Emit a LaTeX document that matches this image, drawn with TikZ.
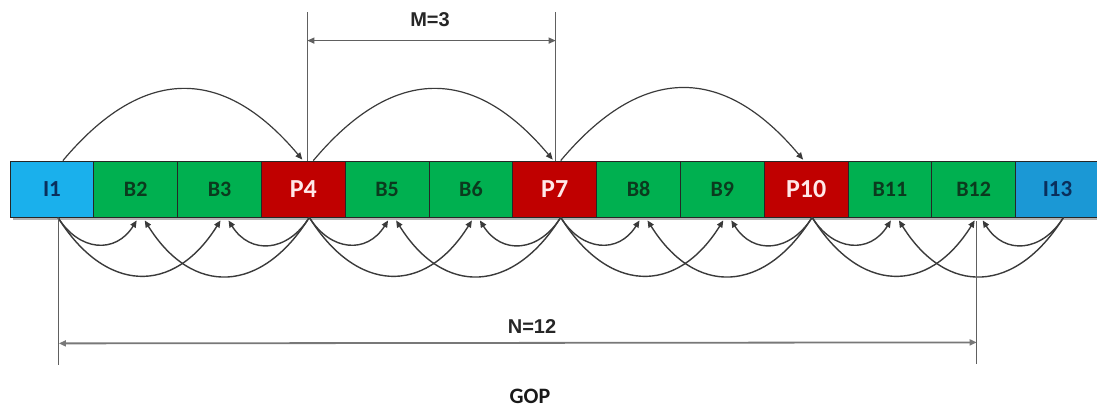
\documentclass[tikz,border=0pt]{standalone}
\usepackage{fontspec}
\setmainfont{Carlito}
\newfontfamily\arialfont{Liberation Sans}
\usetikzlibrary{arrows.meta,calc}

\definecolor{iblue}{HTML}{1AB0EC}
\definecolor{iblueb}{HTML}{1B98D5}
\definecolor{bgreen}{HTML}{00B050}
\definecolor{pred}{HTML}{C00000}
\definecolor{btext}{HTML}{0B3A1E}
\definecolor{itext}{HTML}{0A2F5C}
\definecolor{ptext}{HTML}{FFE8E8}
\definecolor{curve}{HTML}{3A3A3A}
\definecolor{dimline}{HTML}{606060}

\begin{document}
\begin{tikzpicture}[x=1pt,y=1pt,
  frame/.style={draw=black!85, line width=0.8pt, minimum width=83.8pt,
    minimum height=56pt, inner sep=0pt},
  iframe/.style={frame, fill=iblue, text=itext,
    font=\bfseries\fontsize{23}{23}\selectfont},
  bframe/.style={frame, fill=bgreen, text=btext,
    font=\bfseries\fontsize{22}{22}\selectfont},
  pframe/.style={frame, fill=pred, text=ptext,
    font=\bfseries\fontsize{26}{26}\selectfont},
  tip/.style={-{Triangle[length=7pt,width=6pt]}},
  arc/.style={tip, draw=curve, line width=1.4pt},
  dim/.style={draw=dimline, line width=1.1pt},
  dimarrow/.style={dim, {Triangle[length=7pt,width=6pt]}-{Triangle[length=7pt,width=6pt]}},
  dimtext/.style={font=\arialfont\bfseries\fontsize{20}{20}\selectfont, text=black!85}
]
\useasboundingbox (0,0) rectangle (1097,410);

% soft shadow under the frame strip
\fill[black!30] (13,190) rectangle (1102,246);

% the frames of the group of pictures
\node[iframe] (f1)  at ( 51.9,221) {I1};
\node[bframe] (f2)  at (135.7,221) {B2};
\node[bframe] (f3)  at (219.5,221) {B3};
\node[pframe] (f4)  at (303.3,221) {P4};
\node[bframe] (f5)  at (387.1,221) {B5};
\node[bframe] (f6)  at (470.9,221) {B6};
\node[pframe] (f7)  at (554.7,221) {P7};
\node[bframe] (f8)  at (638.5,221) {B8};
\node[bframe] (f9)  at (722.3,221) {B9};
\node[pframe] (f10) at (806.1,221) {P10};
\node[bframe] (f11) at (889.9,221) {B11};
\node[bframe] (f12) at (973.7,221) {B12};
\node[iframe, fill=iblueb] (f13) at (1057.5,221) {I13};

% forward prediction of the P frames (above the strip)
\draw[arc, line width=1.2pt] ($(f1.north)+(11,0)$) to[out=50,in=130,looseness=1.32] ($(f4.north)+(-1,1)$);
\draw[arc, line width=1.2pt] ($(f4.north)+(10,0)$) to[out=50,in=130,looseness=1.32] ($(f7.north)+(-2,1)$);
\draw[arc, line width=1.2pt] ($(f7.north)+(6,0)$)  to[out=50,in=130,looseness=1.32] ($(f10.north)+(-3,1)$);

% reference points under the I and P frames
\foreach \k in {1,4,7,10,13} {
  \coordinate (a\k) at ($(f\k.south)+(6,0)$);
}
% bidirectional prediction of the B frames (below the strip)
\foreach \k in {1,4,7,10} {
  \pgfmathtruncatemacro\na{\k+1}
  \pgfmathtruncatemacro\nb{\k+2}
  \draw[arc] (a\k) to[out=-58,in=-122,looseness=1.3] ($(f\na.south)+(1,-3)$);
  \draw[arc] (a\k) to[out=-58,in=-122,looseness=1.4] ($(f\nb.south)+(1,-3)$);
}
\foreach \k in {4,7,10,13} {
  \pgfmathtruncatemacro\na{\k-1}
  \pgfmathtruncatemacro\nb{\k-2}
  \draw[arc] (a\k) to[out=-122,in=-58,looseness=1.3] ($(f\na.south)+(9,-3)$);
  \draw[arc] (a\k) to[out=-122,in=-58,looseness=1.4] ($(f\nb.south)+(9,-3)$);
}

% distance between anchor frames
\coordinate (m1) at ($(f4.north)+(4,0)$);
\coordinate (m2) at ($(f7.north)+(1,0)$);
\draw[dim] (m1) -- ++(0,149);
\draw[dim] (m2) -- ++(0,149);
\draw[dimarrow] ($(m1)+(0,120)$) -- ($(m2)+(0,120)$);
\node[dimtext] (mlabel) at (430,390) {M=3};

% length of the group of pictures
\coordinate (n1) at ($(f1.south)+(7,-1)$);
\coordinate (n2) at ($(f12.south)+(3,-4)$);
\draw[dim] (n1) -- ($(n1)+(0,-147)$);
\draw[dim] (n2) -- ($(n2)+(0,-143)$);
\draw[dimarrow, line width=1.8pt, draw=dimline!85] ($(n1)+(0,-125)$) -- ($(n2)+(0,-121)$);
\node[dimtext] (nlabel) at (532,83) {N=12};

\node[font=\bfseries\fontsize{22}{22}\selectfont, text=black!90] (gop) at (530,14) {GOP};
\end{tikzpicture}
\end{document}
